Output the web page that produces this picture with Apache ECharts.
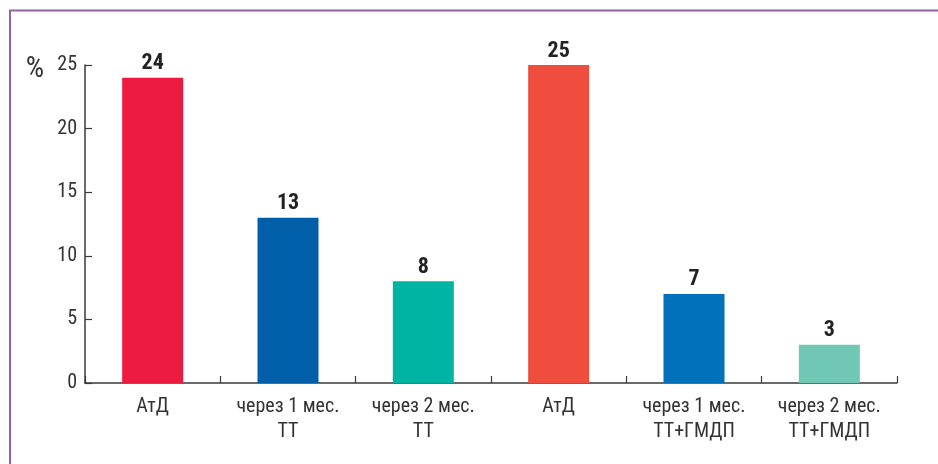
<!DOCTYPE html>
<html>
<head>
<meta charset="utf-8">
<script src="https://cdn.jsdelivr.net/npm/echarts@6/dist/echarts.min.js"></script>
<style>
  html, body { margin: 0; padding: 0; background: #fff; }
  #chart { width: 938px; height: 464px; }
</style>
</head>
<body>
<div id="chart"></div>
<script>
// Categories along the x axis
const categories = [
  'АтД',
  'через 1 мес.\nТТ',
  'через 2 мес.\nТТ',
  'АтД',
  'через 1 мес.\nТТ+ГМДП',
  'через 2 мес.\nТТ+ГМДП'
];
// Percentages per group
const values = [24, 13, 8, 25, 7, 3];
// Bar fill colours
const barColors = ['#ec1b3f', '#005fa8', '#00b4a4', '#ef4e3e', '#0071ba', '#6fc7b4'];
// Y axis ticks
const yTicks = [0, 5, 10, 15, 20, 25];

const FONT = '"Roboto Condensed", "DejaVu Sans Condensed", sans-serif';

const chart = echarts.init(document.getElementById('chart'), null, { renderer: 'canvas' });

chart.setOption({
  backgroundColor: '#fff',
  animation: false,
  graphic: [
    {
      type: 'rect',
      shape: { x: 10, y: 10.5, width: 1000, height: 600 },
      style: { fill: 'none', stroke: '#93639f', lineWidth: 2 },
      silent: true
    },
    {
      type: 'text',
      x: 35,
      y: 70,
      style: {
        text: '%',
        fontFamily: FONT,
        fontSize: 29,
        fill: '#333',
        align: 'center',
        verticalAlign: 'middle'
      }
    }
  ],
  grid: { left: 85, right: 41, top: 65, bottom: 81, containLabel: false },
  xAxis: {
    type: 'category',
    data: categories,
    axisLine: { lineStyle: { color: '#3a3a3a', width: 1.5 } },
    axisTick: { show: true, inside: true, length: 7, lineStyle: { color: '#3a3a3a', width: 1.2 } },
    axisLabel: {
      color: '#333',
      fontFamily: FONT,
      fontSize: 20,
      lineHeight: 25,
      margin: 11
    }
  },
  yAxis: {
    type: 'value',
    min: yTicks[0],
    max: yTicks[yTicks.length - 1],
    interval: 5,
    splitLine: { show: false },
    axisLine: { show: true, lineStyle: { color: '#3a3a3a', width: 1.5 } },
    axisTick: { show: true, inside: true, length: 7, lineStyle: { color: '#3a3a3a', width: 1.2 } },
    axisLabel: {
      color: '#333',
      fontFamily: FONT,
      fontSize: 20,
      margin: 8
    }
  },
  series: [{
    type: 'bar',
    data: values.map((v, i) => ({ value: v, itemStyle: { color: barColors[i] } })),
    barWidth: 61,
    label: {
      show: true,
      position: 'top',
      distance: 3,
      color: '#222',
      fontFamily: FONT,
      fontWeight: 'bold',
      fontSize: 22
    }
  }]
});
</script>
</body>
</html>
